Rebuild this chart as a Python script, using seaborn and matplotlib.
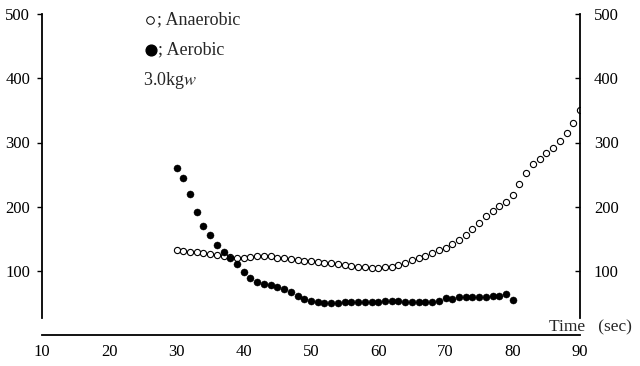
import numpy as np
import pandas as pd
import matplotlib
matplotlib.use("Agg")
import matplotlib.pyplot as plt
from matplotlib.ticker import FixedLocator
import seaborn as sns

# Oxygen-supply components during a 3.0 kgw contraction (seconds)
aerobic_time = list(range(30, 81))
aerobic = [261, 244, 220, 192, 170, 156, 141, 129, 120, 111,
           99, 89, 83, 80, 78, 75, 72, 68, 61, 57,
           54, 51, 50, 50, 50, 51, 52, 52, 52, 51,
           51, 53, 54, 53, 52, 51, 51, 51, 51, 54,
           58, 57, 59, 60, 59, 59, 60, 61, 61, 64,
           55]

anaerobic_time = list(range(30, 91))
anaerobic = [133, 131, 130, 129, 128, 127, 125, 124, 122, 121,
             121, 122, 123, 124, 123, 121, 120, 119, 117, 116,
             115, 114, 113, 112, 111, 109, 108, 107, 106, 105,
             105, 106, 107, 110, 113, 117, 120, 124, 128, 132,
             136, 142, 148, 156, 165, 174, 185, 194, 201, 208,
             218, 236, 252, 266, 275, 283, 292, 302, 315, 330,
             350]

x_ticks = [10, 20, 30, 40, 50, 60, 70, 80, 90]
y_ticks = [100, 200, 300, 400, 500]

aer_df = pd.DataFrame({"time": aerobic_time, "value": aerobic})
ana_df = pd.DataFrame({"time": anaerobic_time, "value": anaerobic})

sns.set_style("white")
plt.rcParams["font.family"] = ["Liberation Serif", "DejaVu Serif"]
plt.rcParams["mathtext.fontset"] = "stix"

W, H = 640, 366
fig = plt.figure(figsize=(W / 100, H / 100), dpi=100)
ax = fig.add_axes([42 / W, (H - 335.25) / H, 538 / W, (335.25 - 14) / H])

sns.scatterplot(data=ana_df, x="time", y="value", ax=ax, marker="o",
                s=20, facecolor="white", edgecolor="black", linewidth=0.8,
                zorder=3, legend=False)
sns.scatterplot(data=aer_df, x="time", y="value", ax=ax, marker="o",
                s=26, color="black", edgecolor="black", linewidth=0.3,
                zorder=4, legend=False)

ax.set_xlim(10, 90)
ax.set_ylim(0, 500)
ax.set_xlabel("")
ax.set_ylabel("")

# spines: vertical axes stop short of the time axis
for side in ("top", "right"):
    ax.spines[side].set_visible(False)
ax.spines["left"].set_bounds(27, 500)
for side in ("left", "bottom"):
    ax.spines[side].set_linewidth(1.3)
    ax.spines[side].set_color("black")

ax.set_yticks(y_ticks)
ax.tick_params(axis="y", direction="out", length=3.6, width=1.0,
               pad=5, labelsize=12, colors="black")
ax.set_xticks(x_ticks)
ax.tick_params(axis="x", which="major", length=0, pad=6, labelsize=12,
               colors="black")
ax.xaxis.set_minor_locator(FixedLocator([10, 90]))
ax.tick_params(axis="x", which="minor", direction="in", length=3, width=1.0)

# right-hand copy of the value axis
axr = ax.twinx()
axr.set_ylim(0, 500)
axr.set_yticks(y_ticks)
for side in ("top", "left", "bottom"):
    axr.spines[side].set_visible(False)
axr.spines["right"].set_bounds(27, 500)
axr.spines["right"].set_linewidth(1.3)
axr.spines["right"].set_color("black")
axr.tick_params(axis="y", direction="in", length=3.6, width=1.0,
                pad=10, labelsize=12, colors="black")

# key and condition label
ax.scatter([26.1], [490.5], s=30, facecolor="white", edgecolor="black",
           linewidth=0.7, clip_on=False, zorder=5)
ax.text(27.1, 490.5, "; Anaerobic", fontsize=13, va="center", ha="left")
ax.scatter([26.2], [444], s=60, color="black", clip_on=False, zorder=5)
ax.text(27.2, 444, "; Aerobic", fontsize=13, va="center", ha="left")
ax.text(25.0, 397, r"3.0kg$\mathit{w}$", fontsize=13, va="center", ha="left")

ax.text(85.4, 12.5, "Time   (sec)", fontsize=12.5, va="center", ha="left",
        clip_on=False)

fig.savefig("out.png", dpi=100)
